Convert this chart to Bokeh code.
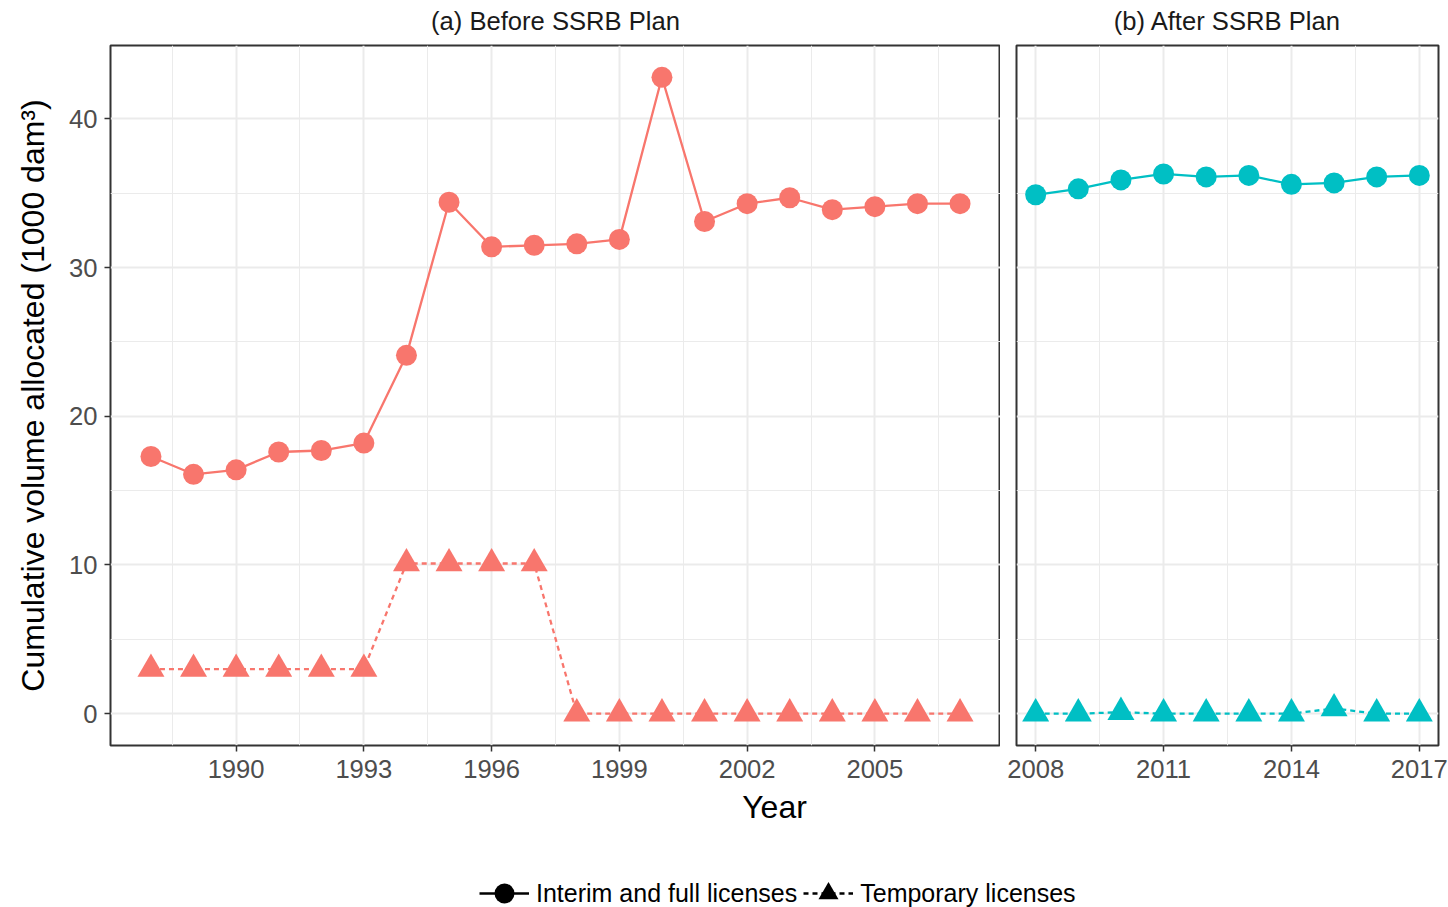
from bokeh.plotting import figure
from bokeh.layouts import column, row
from bokeh.models import (Range1d, FixedTicker, Legend, LegendItem, Label,
                          ColumnDataSource)
from bokeh.embed import file_html
from bokeh.resources import INLINE

# ---- data -------------------------------------------------------------
years_before = [1988, 1989, 1990, 1991, 1992, 1993, 1994, 1995, 1996, 1997,
                1998, 1999, 2000, 2001, 2002, 2003, 2004, 2005, 2006, 2007]
interim_before = [17.3, 16.1, 16.4, 17.6, 17.7, 18.2, 24.1, 34.4, 31.4, 31.5,
                  31.6, 31.9, 42.8, 33.1, 34.3, 34.7, 33.9, 34.1, 34.3, 34.3]
temporary_before = [3.0, 3.0, 3.0, 3.0, 3.0, 3.0, 10.1, 10.1, 10.1, 10.1,
                    0.0, 0.0, 0.0, 0.0, 0.0, 0.0, 0.0, 0.0, 0.0, 0.0]

years_after = [2008, 2009, 2010, 2011, 2012, 2013, 2014, 2015, 2016, 2017]
interim_after = [34.9, 35.3, 35.9, 36.3, 36.1, 36.2, 35.6, 35.7, 36.1, 36.2]
temporary_after = [0.0, 0.0, 0.1, 0.0, 0.0, 0.0, 0.0, 0.35, 0.0, 0.0]

panel_titles = ["(a) Before SSRB Plan", "(b) After SSRB Plan"]
series_labels = ["Interim and full licenses", "Temporary licenses"]
ticks_before = [1990, 1993, 1996, 1999, 2002, 2005]
minor_before = [1988.5, 1991.5, 1994.5, 1997.5, 2000.5, 2003.5, 2006.5]
ticks_after = [2008, 2011, 2014, 2017]
minor_after = [2009.5, 2012.5, 2015.5]
y_ticks = [0, 10, 20, 30, 40]
y_minor = [5, 15, 25, 35]

# ---- styling / geometry ----------------------------------------------
FONT = "Liberation Sans"
SMALL = "25.6px"
LARGE = "32px"
RED = "#F8766D"
TEAL = "#00BFC4"
GRID = "#EBEBEB"
DARK = "#333333"
CIRCLE_SIZE = 21
TRI_SIZE = 27
LINE_W = 2.3
DASH = "5 4"

PAGE_W = 1448
HEAD_H = 41          # strip holding the facet titles
PANEL_H = 700
LEFT_PAD, LEFT_W = 110, 890
GAP, RIGHT_W, RIGHT_PAD = 16, 422, 10
FOOT_H = 117


def expanded(lo, hi, frac=0.05):
    pad = (hi - lo) * frac
    return Range1d(lo - pad, hi + pad)


all_y = interim_before + temporary_before + interim_after + temporary_after
y_min, y_max = min(all_y), max(all_y)


def make_panel(years, interim, temporary, color, ticks, minor,
               frame_w, left_border, right_border, show_y):
    p = figure(frame_width=frame_w, frame_height=PANEL_H,
               x_range=expanded(min(years), max(years)),
               y_range=expanded(y_min, y_max),
               output_backend="svg", toolbar_location=None,
               min_border_left=left_border, min_border_right=right_border,
               min_border_top=4, min_border_bottom=45,
               background_fill_color="white", border_fill_color="white")

    p.outline_line_color = DARK
    p.outline_line_width = 2

    p.xaxis.ticker = FixedTicker(ticks=ticks, minor_ticks=minor)
    p.yaxis.ticker = FixedTicker(ticks=y_ticks, minor_ticks=y_minor)
    for ax in (p.xaxis[0], p.yaxis[0]):
        ax.axis_line_color = None
        ax.major_tick_line_color = DARK
        ax.major_tick_line_width = 1.5
        ax.major_tick_out = 6
        ax.major_tick_in = 0
        ax.minor_tick_line_color = None
        ax.major_label_text_font = FONT
        ax.major_label_text_font_size = SMALL
        ax.major_label_text_color = "#4D4D4D"
    p.xaxis.major_label_standoff = 8
    p.yaxis.major_label_standoff = 7

    if show_y:
        p.yaxis.axis_label = "Cumulative volume allocated (1000 dam\u00b3)"
        p.yaxis.axis_label_text_font = FONT
        p.yaxis.axis_label_text_font_size = LARGE
        p.yaxis.axis_label_text_font_style = "normal"
        p.yaxis.axis_label_text_color = "black"
        p.yaxis.axis_label_standoff = 15
    else:
        p.yaxis.visible = False

    for g in (p.xgrid[0], p.ygrid[0]):
        g.grid_line_color = GRID
        g.grid_line_width = 2
        g.minor_grid_line_color = GRID
        g.minor_grid_line_width = 1

    src = ColumnDataSource(dict(year=years, interim=interim, temporary=temporary))
    p.line("year", "temporary", source=src, line_color=color, line_width=LINE_W,
           line_dash=DASH)
    p.scatter("year", "temporary", source=src, marker="triangle",
              size=TRI_SIZE, fill_color=color, line_color=None)
    p.line("year", "interim", source=src, line_color=color, line_width=LINE_W)
    p.scatter("year", "interim", source=src, marker="circle",
              size=CIRCLE_SIZE, fill_color=color, line_color=None)
    return p


def strip(height):
    """A blank full-width canvas whose data units are pixels (y downwards)."""
    s = figure(frame_width=PAGE_W, frame_height=height,
               x_range=Range1d(0, PAGE_W), y_range=Range1d(height, 0),
               output_backend="svg", toolbar_location=None,
               min_border=0, outline_line_color=None,
               background_fill_color="white", border_fill_color="white")
    s.axis.visible = False
    s.grid.visible = False
    return s


# ---- facet titles -----------------------------------------------------
head = strip(HEAD_H)
title_x = [LEFT_PAD + LEFT_W / 2,
           LEFT_PAD + LEFT_W + GAP + RIGHT_W / 2]
for tx, tt in zip(title_x, panel_titles):
    head.add_layout(Label(x=tx, y=20, text=tt, text_align="center",
                          text_baseline="middle", text_font=FONT,
                          text_font_size=SMALL, text_color="#1A1A1A"))

# ---- panels -----------------------------------------------------------
p_before = make_panel(years_before, interim_before, temporary_before, RED,
                      ticks_before, minor_before, LEFT_W, LEFT_PAD, 0, True)
p_after = make_panel(years_after, interim_after, temporary_after, TEAL,
                     ticks_after, minor_after, RIGHT_W, GAP, RIGHT_PAD, False)

# ---- shared x title and legend ---------------------------------------
foot = strip(FOOT_H)
foot.add_layout(Label(x=LEFT_PAD + (LEFT_W + GAP + RIGHT_W) / 2, y=16,
                      text="Year", text_align="center",
                      text_baseline="middle", text_font=FONT,
                      text_font_size=LARGE, text_color="black"))

# legend-only renderers: a single NaN point draws nothing in the plot area
blank = ColumnDataSource(dict(x=[float("nan")], y=[float("nan")]))
l1 = foot.line("x", "y", source=blank, line_color="black", line_width=LINE_W)
m1 = foot.scatter("x", "y", source=blank, marker="circle",
                  fill_color="black", line_color=None)
l2 = foot.line("x", "y", source=blank, line_color="black", line_width=LINE_W,
               line_dash=DASH)
m2 = foot.scatter("x", "y", source=blank, marker="triangle",
                  fill_color="black", line_color=None)

legend = Legend(items=[LegendItem(label=series_labels[0], renderers=[l1, m1]),
                       LegendItem(label=series_labels[1], renderers=[l2, m2])],
                orientation="horizontal", location=(479, -11),
                glyph_width=50, glyph_height=50, label_standoff=7,
                spacing=6, padding=0, margin=0,
                border_line_color=None, background_fill_alpha=0,
                label_text_font=FONT, label_text_font_size="25px",
                label_text_color="black")
foot.add_layout(legend, "center")

layout = column(head, row(p_before, p_after, spacing=0), foot, spacing=0)

with open("out.html", "w") as f:
    f.write(file_html(layout, INLINE))
